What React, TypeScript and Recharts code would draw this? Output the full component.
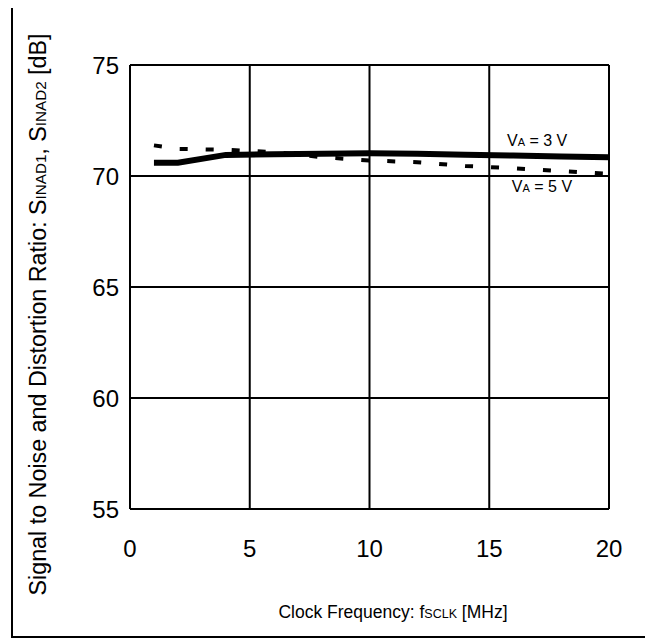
import React from "react";
import { LineChart, Line, XAxis, YAxis, CartesianGrid, ReferenceDot } from "recharts";

const freqs = [1, 2, 4, 6, 8, 10, 12, 14, 16, 18, 20];
const sinadVa3 = [70.6, 70.6, 70.95, 70.98, 71.0, 71.02, 71.0, 70.96, 70.92, 70.88, 70.85];
const sinadVa5 = [71.38, 71.22, 71.18, 71.08, 70.85, 70.7, 70.62, 70.45, 70.35, 70.22, 70.1];
const xTicks = [0, 5, 10, 15, 20];
const yTicks = [55, 60, 65, 70, 75];
const labelVa3 = { x: 17.0, y: 71.62, main: "V", sub: "A", rest: " = 3 V" };
const labelVa5 = { x: 17.2, y: 69.53, main: "V", sub: "A", rest: " = 5 V" };

const data = freqs.map((f, i) => ({ f, va3: sinadVa3[i], va5: sinadVa5[i] }));

const FONT = "'Liberation Sans', Arial, sans-serif";

const makeVaLabel = (l: typeof labelVa3) => (props: any) => {
  const vb = props.viewBox || {};
  const cx = vb.x + (vb.width || 0) / 2;
  const cy = vb.y + (vb.height || 0) / 2;
  return (
    <text x={cx} y={cy} dy="0.36em" textAnchor="middle" fontFamily={FONT} fontSize={16} fill="#000">
      {l.main}
      <tspan fontSize={11}>{l.sub}</tspan>
      {l.rest}
    </text>
  );
};

const YLabel = () => (
  <text
    x={29.5}
    y={306.5}
    dy="0.36em"
    transform="rotate(-90 29.5 306.5)"
    textAnchor="middle"
    textLength={562}
    lengthAdjust="spacingAndGlyphs"
    fontFamily={FONT}
    fontSize={23}
    fill="#000"
  >
    Signal to Noise and Distortion Ratio: S<tspan fontSize={15}>INAD1</tspan>, S<tspan fontSize={15}>INAD2</tspan> [dB]
  </text>
);

const XLabel = () => (
  <text x={385} y={610} textAnchor="middle" fontFamily={FONT} fontSize={17.5} fill="#000">
    Clock Frequency: f<tspan fontSize={12.5}>SCLK</tspan> [MHz]
  </text>
);

export default function App() {
  return (
    <div style={{ position: "relative", width: 645, height: 631 }}>
      <div
        style={{
          position: "absolute",
          left: 3,
          top: -3,
          width: 636,
          height: 633,
          border: "2px solid #000",
          boxSizing: "border-box",
          pointerEvents: "none",
        }}
      />
      <LineChart width={645} height={631} data={data} margin={{ top: 57, right: 44, left: 62, bottom: 100 }}>
        <CartesianGrid stroke="#000" strokeWidth={2} horizontalValues={yTicks} verticalValues={xTicks} />
        <XAxis
          dataKey="f"
          type="number"
          domain={[0, 20]}
          ticks={xTicks}
          tickLine={false}
          tickSize={0}
          tickMargin={31}
          axisLine={{ stroke: "#000", strokeWidth: 2 }}
          tick={{ fill: "#000", fontSize: 24, fontFamily: FONT }}
          height={30}
        />
        <YAxis
          type="number"
          domain={[55, 75]}
          ticks={yTicks}
          tickLine={false}
          tickSize={0}
          tickMargin={11}
          axisLine={{ stroke: "#000", strokeWidth: 2 }}
          tick={{ fill: "#000", fontSize: 24, fontFamily: FONT }}
          width={60}
        />
        <Line type="linear" dataKey="va3" stroke="#000" strokeWidth={6} dot={false} isAnimationActive={false} />
        <Line
          type="linear"
          dataKey="va5"
          stroke="#000"
          strokeWidth={4}
          strokeDasharray="8 18"
          dot={false}
          isAnimationActive={false}
        />
        <ReferenceDot x={labelVa3.x} y={labelVa3.y} r={0} fill="none" stroke="none" label={makeVaLabel(labelVa3)} />
        <ReferenceDot x={labelVa5.x} y={labelVa5.y} r={0} fill="none" stroke="none" label={makeVaLabel(labelVa5)} />
        <YLabel />
        <XLabel />
      </LineChart>
    </div>
  );
}
